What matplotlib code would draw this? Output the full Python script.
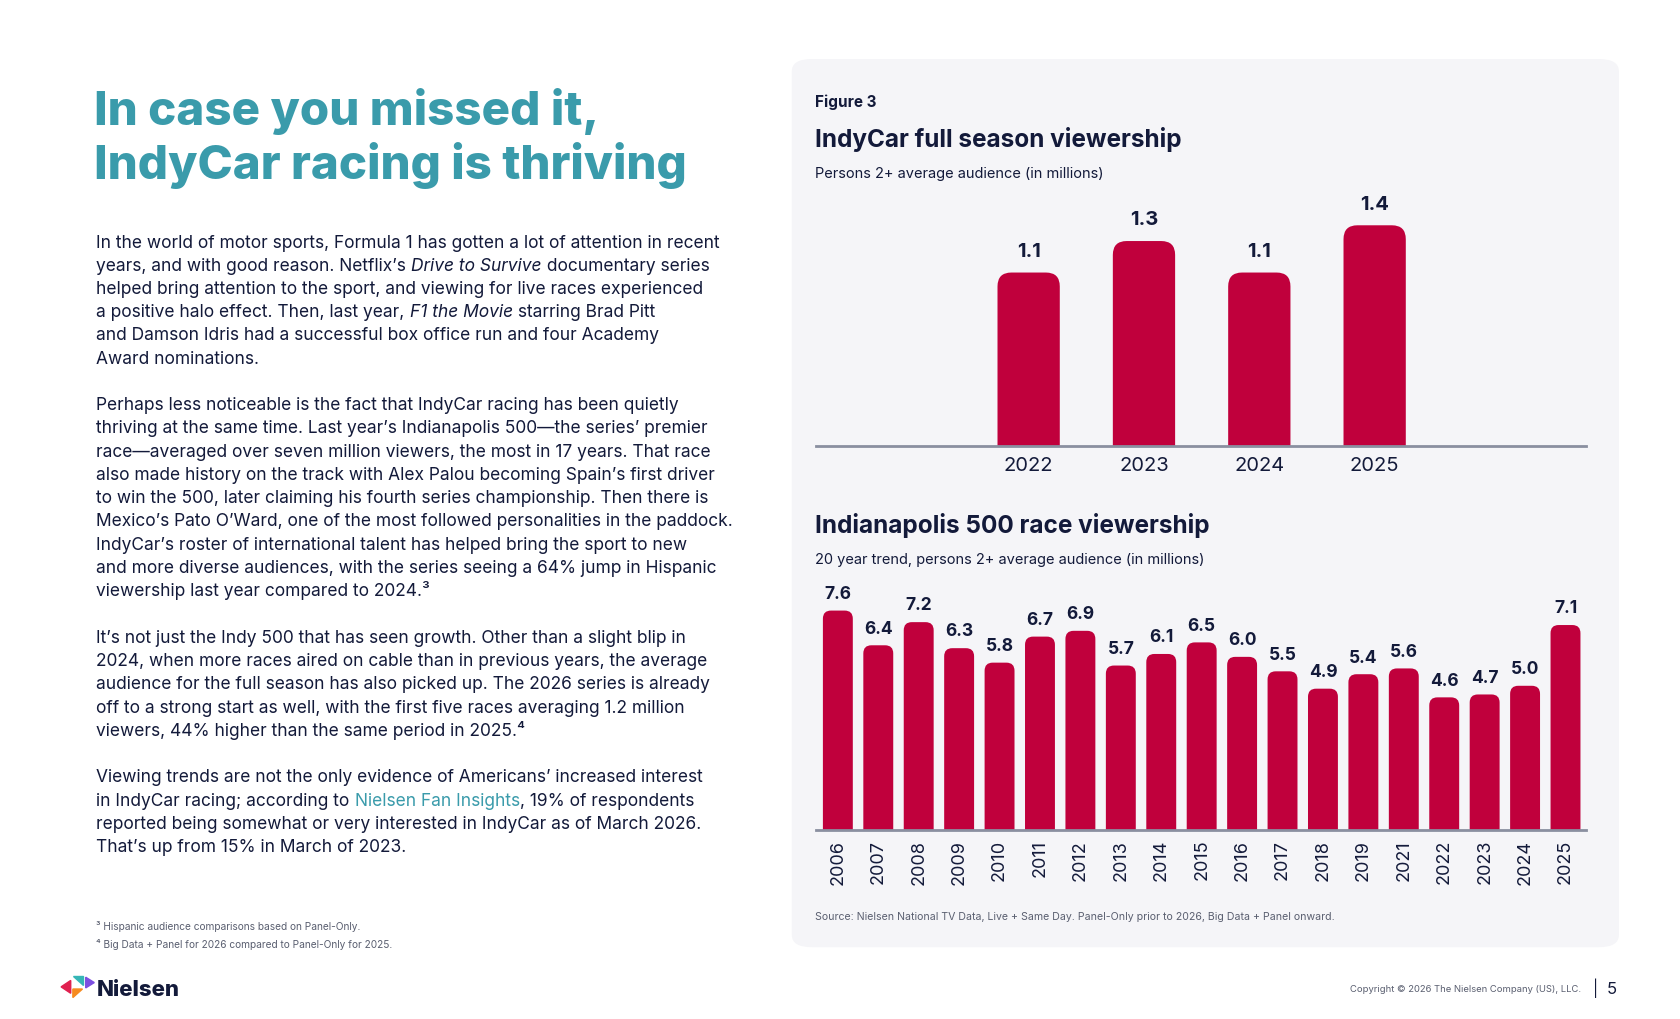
import matplotlib
matplotlib.use("Agg")
import matplotlib.pyplot as plt
from matplotlib.patches import FancyBboxPatch, Polygon

plt.rcParams["font.family"] = ["Inter", "DejaVu Sans"]

# ---- data -----------------------------------------------------------------
season_years = ["2022", "2023", "2024", "2025"]
season_values = [1.1, 1.3, 1.1, 1.4]

indy_years = ["2006", "2007", "2008", "2009", "2010", "2011", "2012", "2013",
              "2014", "2015", "2016", "2017", "2018", "2019", "2021", "2022",
              "2023", "2024", "2025"]
indy_values = [7.6, 6.4, 7.2, 6.3, 5.8, 6.7, 6.9, 5.7, 6.1, 6.5, 6.0, 5.5,
               4.9, 5.4, 5.6, 4.6, 4.7, 5.0, 7.1]

BAR = "#c0003c"
NAVY = "#131a3a"
TEAL = "#3a9bab"
GREY = "#5a5f70"

W, H = 1568.0, 952.0  # layout grid (reference units)
fig = plt.figure(figsize=(16.8, 10.2), dpi=100)


def fx(x):
    return x / W


def fy(y):
    return 1 - y / H


def txt(x, y, s, **kw):
    kw.setdefault("color", NAVY)
    kw.setdefault("va", "baseline")
    return fig.text(fx(x), fy(y), s, **kw)


# ---- left column ----------------------------------------------------------
txt(88, 117, "In case you missed it,", fontsize=34.2, fontweight="heavy", color=TEAL)
txt(88, 167, "IndyCar racing is thriving", fontsize=34.2, fontweight="heavy", color=TEAL)

body = [
    [("In the world of motor sports, Formula 1 has gotten a lot of attention in recent", "normal", NAVY)],
    [("years, and with good reason. Netflix\u2019s ", "normal", NAVY), ("Drive to Survive", "italic", NAVY),
     (" documentary series", "normal", NAVY)],
    [("helped bring attention to the sport, and viewing for live races experienced", "normal", NAVY)],
    [("a positive halo effect. Then, last year, ", "normal", NAVY), ("F1 the Movie", "italic", NAVY),
     (" starring Brad Pitt", "normal", NAVY)],
    [("and Damson Idris had a successful box office run and four Academy", "normal", NAVY)],
    [("Award nominations.", "normal", NAVY)],
    None,
    [("Perhaps less noticeable is the fact that IndyCar racing has been quietly", "normal", NAVY)],
    [("thriving at the same time. Last year\u2019s Indianapolis 500\u2014the series\u2019 premier", "normal", NAVY)],
    [("race\u2014averaged over seven million viewers, the most in 17 years. That race", "normal", NAVY)],
    [("also made history on the track with Alex Palou becoming Spain\u2019s first driver", "normal", NAVY)],
    [("to win the 500, later claiming his fourth series championship. Then there is", "normal", NAVY)],
    [("Mexico\u2019s Pato O\u2019Ward, one of the most followed personalities in the paddock.", "normal", NAVY)],
    [("IndyCar\u2019s roster of international talent has helped bring the sport to new", "normal", NAVY)],
    [("and more diverse audiences, with the series seeing a 64% jump in Hispanic", "normal", NAVY)],
    [("viewership last year compared to 2024.\u00b3", "normal", NAVY)],
    None,
    [("It\u2019s not just the Indy 500 that has seen growth. Other than a slight blip in", "normal", NAVY)],
    [("2024, when more races aired on cable than in previous years, the average", "normal", NAVY)],
    [("audience for the full season has also picked up. The 2026 series is already", "normal", NAVY)],
    [("off to a strong start as well, with the first five races averaging 1.2 million", "normal", NAVY)],
    [("viewers, 44% higher than the same period in 2025.\u2074", "normal", NAVY)],
    None,
    [("Viewing trends are not the only evidence of Americans\u2019 increased interest", "normal", NAVY)],
    [("in IndyCar racing; according to ", "normal", NAVY), ("Nielsen Fan Insights", "normal", TEAL),
     (", 19% of respondents", "normal", NAVY)],
    [("reported being somewhat or very interested in IndyCar as of March 2026.", "normal", NAVY)],
    [("That\u2019s up from 15% in March of 2023.", "normal", NAVY)],
]

renderer = fig.canvas.get_renderer()
y = 231
for line in body:
    if line is None:
        y += 21.7
        continue
    x = 90
    for seg, style, col in line:
        t = txt(x, y, seg, fontsize=12.5, style=style, color=col)
        bb = t.get_window_extent(renderer)
        x += bb.width / fig.bbox.width * W
    y += 21.7

txt(90, 868, "\u00b3 Hispanic audience comparisons based on Panel-Only.", fontsize=7.3, color=GREY)
txt(90, 885, "\u2074 Big Data + Panel for 2026 compared to Panel-Only for 2025.", fontsize=7.3, color=GREY)

# logo
logo = [((57, 922), (66, 916), (66, 928), "#e0204f"),
        ((68, 912), (77, 912), (77, 920), "#35b6b6"),
        ((80, 913), (88, 918), (80, 923), "#7b4fe0"),
        ((68, 924), (77, 924), (68, 932), "#f68b1f")]
for a, b, c, col in logo:
    fig.patches.append(Polygon([(fx(a[0]), fy(a[1])), (fx(b[0]), fy(b[1])), (fx(c[0]), fy(c[1]))],
                               closed=True, color=col, transform=fig.transFigure))
txt(90, 930, "Nielsen", fontsize=16, fontweight="heavy")

txt(1476, 926, "Copyright \u00a9 2026 The Nielsen Company (US), LLC.", fontsize=6.8, color=GREY, ha="right")
txt(1487, 928, "|", fontsize=11, color=NAVY)
txt(1500, 928, "5", fontsize=12, color=NAVY)

# ---- right panel ----------------------------------------------------------
panel = FancyBboxPatch((fx(739), fy(885)), fx(1511) - fx(739), fy(56) - fy(885),
                       boxstyle="round,pad=0,rounding_size=0.012", transform=fig.transFigure,
                       facecolor="#f5f5f8", edgecolor="none", zorder=-5,
                       mutation_aspect=W / H * 10.2 / 16.8)
fig.patches.append(panel)

txt(761, 100, "Figure 3", fontsize=11, fontweight="bold")
txt(761, 137, "IndyCar full season viewership", fontsize=17.5, fontweight="bold")
txt(761, 166, "Persons 2+ average audience (in millions)", fontsize=10.5)
txt(761, 497, "Indianapolis 500 race viewership", fontsize=17.5, fontweight="bold")
txt(761, 526, "20 year trend, persons 2+ average audience (in millions)", fontsize=10.5)
txt(761, 859, "Source: Nielsen National TV Data, Live + Same Day. Panel-Only prior to 2026, Big Data + Panel onward.",
    fontsize=7.6, color=GREY)


def rounded_bars(ax, values, width, radius, label_fs, label_pad):
    bb = ax.get_window_extent(renderer)
    x0, x1 = ax.get_xlim()
    y0, y1 = ax.get_ylim()
    aspect = ((y1 - y0) / bb.height) / ((x1 - x0) / bb.width)
    for i, v in enumerate(values):
        p = FancyBboxPatch((i - width / 2, -radius * aspect * 2), width, v + radius * aspect * 2,
                           boxstyle=f"round,pad=0,rounding_size={radius}",
                           mutation_aspect=aspect, facecolor=BAR, edgecolor="none")
        ax.add_patch(p)
        ax.text(i, v + label_pad, f"{v:.1f}", ha="center", va="bottom",
                fontsize=label_fs, fontweight="bold", color=NAVY)


def style_axes(ax):
    ax.patch.set_visible(False)
    for s in ["top", "right", "left"]:
        ax.spines[s].set_visible(False)
    ax.spines["bottom"].set_color("#8a8fa0")
    ax.spines["bottom"].set_linewidth(2)
    ax.spines["bottom"].set_zorder(5)
    ax.set_yticks([])
    ax.tick_params(axis="x", length=0, colors=NAVY)


# top chart
ax1 = fig.add_axes([fx(762), fy(417), fx(1480) - fx(762), fy(190) - fy(417)])
ax1.set_xlim(-1.84, 4.83)
ax1.set_ylim(0, 227 / 147)
style_axes(ax1)
ax1.set_xticks(range(len(season_years)), season_years, fontsize=14.5)
ax1.tick_params(axis="x", pad=7)
rounded_bars(ax1, season_values, 0.54, 0.12, 14.5, 0.08)

# bottom chart
ax2 = fig.add_axes([fx(762), fy(776), fx(1480) - fx(762), fy(545) - fy(776)])
ax2.set_xlim(-0.53, 18.5)
ax2.set_ylim(0, 231 / 27.0)
style_axes(ax2)
ax2.set_xticks(range(len(indy_years)), indy_years, fontsize=13, rotation=90)
ax2.tick_params(axis="x", pad=6)
rounded_bars(ax2, indy_values, 0.74, 0.2, 12.5, 0.3)

fig.savefig("out.png", dpi=100)
